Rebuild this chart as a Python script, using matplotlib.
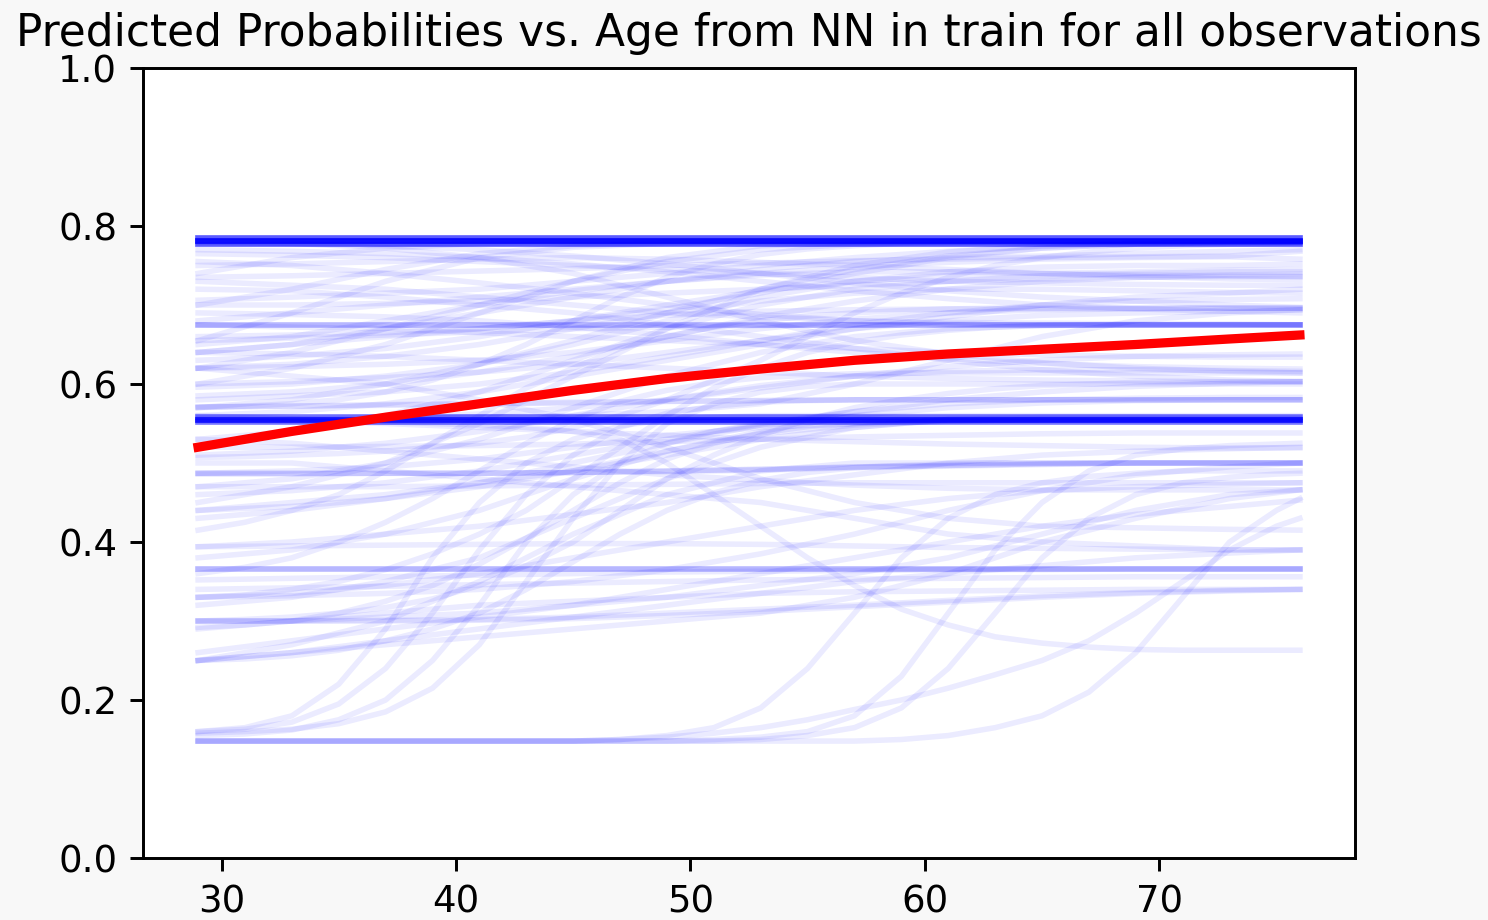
import numpy as np
import matplotlib
matplotlib.use('Agg')
from matplotlib import pyplot as plt

ages = [29, 33, 37, 41, 45, 49, 53, 57, 61, 65, 69, 73, 76]
# finer grid for the steep curves
ages_fine = [29, 31, 33, 35, 37, 39, 41, 43, 45, 47, 49, 51, 53, 55, 57, 59, 61, 63, 65, 67, 69, 71, 73, 75, 76]

# flat predictions that repeat for many observations
flat_levels = [0.7775, 0.781, 0.7845, 0.552, 0.555, 0.558, 0.675, 0.366]
flat_counts = [12, 22, 12, 9, 18, 9, 4, 4]

# slow curves in the upper part of the plot
upper_curves = [
    [0.70, 0.72, 0.745, 0.765, 0.775, 0.779, 0.78, 0.78, 0.78, 0.78, 0.78, 0.78, 0.78],
    [0.74, 0.76, 0.772, 0.778, 0.78, 0.78, 0.78, 0.78, 0.78, 0.78, 0.78, 0.78, 0.78],
    [0.62, 0.64, 0.67, 0.70, 0.73, 0.755, 0.77, 0.777, 0.78, 0.78, 0.78, 0.78, 0.78],
    [0.655, 0.69, 0.73, 0.76, 0.773, 0.778, 0.78, 0.78, 0.78, 0.78, 0.78, 0.78, 0.78],
    [0.57, 0.58, 0.60, 0.625, 0.655, 0.69, 0.72, 0.745, 0.762, 0.772, 0.777, 0.779, 0.78],
    [0.56, 0.565, 0.575, 0.59, 0.61, 0.63, 0.65, 0.67, 0.685, 0.70, 0.71, 0.715, 0.72],
    [0.78, 0.778, 0.775, 0.77, 0.762, 0.752, 0.74, 0.728, 0.718, 0.71, 0.705, 0.70, 0.697],
    [0.765, 0.763, 0.76, 0.755, 0.75, 0.745, 0.74, 0.735, 0.73, 0.728, 0.726, 0.725, 0.725],
    [0.735, 0.737, 0.74, 0.743, 0.746, 0.75, 0.753, 0.756, 0.758, 0.76, 0.761, 0.762, 0.768],
    [0.706, 0.71, 0.715, 0.72, 0.73, 0.74, 0.75, 0.76, 0.768, 0.774, 0.778, 0.78, 0.78],
    [0.64, 0.65, 0.66, 0.67, 0.68, 0.687, 0.692, 0.694, 0.695, 0.695, 0.696, 0.696, 0.696],
    [0.62, 0.622, 0.625, 0.63, 0.64, 0.655, 0.67, 0.682, 0.69, 0.694, 0.695, 0.696, 0.696],
    [0.655, 0.658, 0.662, 0.666, 0.67, 0.672, 0.674, 0.675, 0.675, 0.675, 0.675, 0.675, 0.675],
    [0.596, 0.60, 0.61, 0.625, 0.65, 0.68, 0.71, 0.73, 0.742, 0.748, 0.75, 0.75, 0.752],
    [0.571, 0.572, 0.574, 0.575, 0.577, 0.578, 0.579, 0.58, 0.58, 0.58, 0.58, 0.58, 0.58],
    [0.571, 0.572, 0.573, 0.575, 0.576, 0.578, 0.579, 0.58, 0.58, 0.58, 0.58, 0.58, 0.58],
    [0.555, 0.556, 0.558, 0.562, 0.57, 0.58, 0.595, 0.61, 0.622, 0.63, 0.635, 0.637, 0.638],
    [0.78, 0.778, 0.772, 0.76, 0.74, 0.71, 0.68, 0.655, 0.638, 0.627, 0.62, 0.616, 0.614],
    [0.72, 0.718, 0.71, 0.70, 0.69, 0.675, 0.66, 0.645, 0.63, 0.618, 0.61, 0.605, 0.603],
    [0.68, 0.69, 0.70, 0.71, 0.72, 0.73, 0.74, 0.748, 0.754, 0.758, 0.76, 0.761, 0.758],
    [0.66, 0.662, 0.665, 0.67, 0.68, 0.695, 0.715, 0.74, 0.76, 0.772, 0.777, 0.779, 0.78],
    [0.63, 0.635, 0.645, 0.66, 0.68, 0.70, 0.718, 0.73, 0.737, 0.74, 0.742, 0.744, 0.745],
    [0.60, 0.62, 0.65, 0.69, 0.73, 0.76, 0.775, 0.779, 0.78, 0.78, 0.78, 0.78, 0.78],
    [0.64, 0.65, 0.67, 0.69, 0.71, 0.73, 0.745, 0.755, 0.76, 0.762, 0.765, 0.768, 0.77],
    [0.75, 0.752, 0.755, 0.758, 0.76, 0.758, 0.754, 0.75, 0.745, 0.74, 0.736, 0.733, 0.732],
    [0.70, 0.70, 0.702, 0.705, 0.71, 0.715, 0.72, 0.725, 0.73, 0.733, 0.735, 0.736, 0.736],
    [0.675, 0.672, 0.67, 0.665, 0.66, 0.655, 0.65, 0.645, 0.64, 0.637, 0.635, 0.634, 0.634],
    [0.73, 0.725, 0.72, 0.71, 0.70, 0.69, 0.685, 0.68, 0.678, 0.677, 0.676, 0.676, 0.675],
    [0.58, 0.585, 0.59, 0.60, 0.615, 0.635, 0.655, 0.675, 0.69, 0.70, 0.705, 0.707, 0.708],
    [0.555, 0.555, 0.556, 0.558, 0.56, 0.565, 0.575, 0.60, 0.63, 0.66, 0.68, 0.69, 0.694],
    [0.77, 0.768, 0.765, 0.76, 0.752, 0.742, 0.73, 0.718, 0.708, 0.70, 0.695, 0.692, 0.69],
    [0.755, 0.75, 0.74, 0.728, 0.715, 0.70, 0.688, 0.68, 0.676, 0.675, 0.675, 0.675, 0.675],
    [0.62, 0.625, 0.635, 0.65, 0.67, 0.69, 0.705, 0.715, 0.72, 0.72, 0.718, 0.716, 0.715],
    [0.65, 0.66, 0.68, 0.70, 0.718, 0.73, 0.738, 0.742, 0.742, 0.74, 0.738, 0.737, 0.736],
    [0.60, 0.603, 0.608, 0.615, 0.625, 0.64, 0.655, 0.67, 0.68, 0.687, 0.69, 0.692, 0.694],
    [0.69, 0.688, 0.685, 0.68, 0.672, 0.662, 0.65, 0.64, 0.632, 0.626, 0.622, 0.62, 0.619],
    [0.585, 0.59, 0.60, 0.615, 0.635, 0.66, 0.685, 0.705, 0.72, 0.73, 0.735, 0.738, 0.739],
    [0.64, 0.638, 0.635, 0.63, 0.625, 0.62, 0.615, 0.61, 0.607, 0.605, 0.604, 0.603, 0.603],
]

# slow curves in the middle band
middle_curves = [
    [0.487, 0.49, 0.495, 0.505, 0.52, 0.535, 0.545, 0.55, 0.553, 0.555, 0.555, 0.555, 0.555],
    [0.487, 0.487, 0.487, 0.487, 0.488, 0.49, 0.492, 0.495, 0.497, 0.499, 0.50, 0.50, 0.50],
    [0.487, 0.487, 0.487, 0.487, 0.488, 0.49, 0.492, 0.495, 0.497, 0.499, 0.50, 0.50, 0.50],
    [0.486, 0.486, 0.487, 0.487, 0.488, 0.489, 0.491, 0.494, 0.496, 0.498, 0.50, 0.50, 0.50],
    [0.47, 0.48, 0.50, 0.53, 0.57, 0.61, 0.64, 0.66, 0.67, 0.674, 0.675, 0.675, 0.675],
    [0.45, 0.47, 0.50, 0.55, 0.61, 0.67, 0.72, 0.75, 0.767, 0.775, 0.778, 0.78, 0.78],
    [0.44, 0.445, 0.455, 0.47, 0.49, 0.515, 0.54, 0.56, 0.57, 0.576, 0.579, 0.58, 0.58],
    [0.394, 0.40, 0.41, 0.42, 0.435, 0.45, 0.47, 0.485, 0.50, 0.51, 0.515, 0.518, 0.52],
    [0.38, 0.39, 0.41, 0.44, 0.48, 0.515, 0.537, 0.548, 0.553, 0.555, 0.555, 0.555, 0.555],
    [0.352, 0.354, 0.356, 0.358, 0.36, 0.362, 0.363, 0.364, 0.365, 0.365, 0.366, 0.366, 0.366],
    [0.33, 0.332, 0.335, 0.34, 0.35, 0.365, 0.385, 0.41, 0.44, 0.465, 0.485, 0.495, 0.50],
    [0.33, 0.335, 0.345, 0.36, 0.38, 0.40, 0.42, 0.44, 0.455, 0.465, 0.47, 0.473, 0.475],
    [0.30, 0.30, 0.301, 0.302, 0.305, 0.31, 0.315, 0.32, 0.326, 0.332, 0.336, 0.339, 0.34],
    [0.30, 0.30, 0.30, 0.301, 0.303, 0.307, 0.312, 0.318, 0.324, 0.33, 0.335, 0.338, 0.34],
    [0.26, 0.275, 0.29, 0.305, 0.32, 0.34, 0.36, 0.38, 0.40, 0.42, 0.435, 0.445, 0.453],
    [0.25, 0.26, 0.275, 0.29, 0.305, 0.32, 0.335, 0.35, 0.36, 0.37, 0.38, 0.386, 0.39],
    [0.50, 0.50, 0.49, 0.48, 0.47, 0.46, 0.45, 0.43, 0.41, 0.40, 0.395, 0.39, 0.39],
    [0.62, 0.61, 0.60, 0.58, 0.555, 0.52, 0.48, 0.45, 0.43, 0.42, 0.418, 0.416, 0.415],
    [0.30, 0.30, 0.305, 0.31, 0.32, 0.33, 0.345, 0.36, 0.38, 0.41, 0.44, 0.46, 0.466],
    [0.25, 0.26, 0.27, 0.28, 0.29, 0.30, 0.31, 0.33, 0.36, 0.40, 0.43, 0.455, 0.466],
    [0.555, 0.553, 0.55, 0.545, 0.54, 0.535, 0.53, 0.527, 0.524, 0.522, 0.52, 0.519, 0.519],
    [0.52, 0.52, 0.521, 0.522, 0.524, 0.527, 0.53, 0.533, 0.535, 0.537, 0.538, 0.538, 0.538],
    [0.44, 0.45, 0.46, 0.475, 0.49, 0.51, 0.53, 0.545, 0.555, 0.558, 0.558, 0.557, 0.557],
    [0.47, 0.47, 0.47, 0.471, 0.472, 0.473, 0.474, 0.475, 0.475, 0.475, 0.475, 0.475, 0.475],
    [0.394, 0.395, 0.396, 0.397, 0.398, 0.398, 0.397, 0.395, 0.393, 0.392, 0.391, 0.39, 0.39],
    [0.34, 0.342, 0.344, 0.346, 0.348, 0.35, 0.352, 0.353, 0.354, 0.355, 0.356, 0.356, 0.356],
    [0.29, 0.30, 0.31, 0.32, 0.325, 0.33, 0.335, 0.337, 0.338, 0.339, 0.34, 0.34, 0.34],
    [0.53, 0.54, 0.56, 0.59, 0.63, 0.67, 0.70, 0.72, 0.73, 0.737, 0.74, 0.742, 0.742],
    [0.32, 0.33, 0.35, 0.38, 0.43, 0.48, 0.52, 0.545, 0.555, 0.555, 0.555, 0.555, 0.555],
    [0.25, 0.27, 0.30, 0.35, 0.41, 0.46, 0.49, 0.50, 0.50, 0.50, 0.50, 0.50, 0.50],
    [0.46, 0.465, 0.475, 0.49, 0.51, 0.53, 0.55, 0.565, 0.575, 0.58, 0.582, 0.583, 0.583],
    [0.51, 0.515, 0.525, 0.54, 0.56, 0.58, 0.598, 0.61, 0.616, 0.618, 0.618, 0.617, 0.616],
    [0.43, 0.44, 0.455, 0.475, 0.5, 0.525, 0.548, 0.565, 0.58, 0.59, 0.597, 0.601, 0.603],
    [0.53, 0.525, 0.515, 0.505, 0.495, 0.485, 0.478, 0.472, 0.468, 0.466, 0.466, 0.466, 0.466],
]

# steep curves, on the finer grid
steep_curves = [
    [0.16, 0.165, 0.18, 0.22, 0.29, 0.38, 0.45, 0.50, 0.53, 0.547, 0.555, 0.558, 0.56, 0.56, 0.56, 0.56, 0.56, 0.56, 0.56, 0.56, 0.56, 0.56, 0.56, 0.56, 0.56],
    [0.16, 0.163, 0.172, 0.195, 0.24, 0.31, 0.39, 0.46, 0.51, 0.545, 0.563, 0.572, 0.577, 0.579, 0.58, 0.58, 0.58, 0.58, 0.58, 0.58, 0.58, 0.58, 0.58, 0.58, 0.58],
    [0.155, 0.157, 0.162, 0.175, 0.20, 0.25, 0.32, 0.40, 0.46, 0.50, 0.525, 0.54, 0.548, 0.552, 0.554, 0.555, 0.555, 0.555, 0.555, 0.555, 0.555, 0.555, 0.555, 0.555, 0.555],
    [0.158, 0.16, 0.163, 0.17, 0.185, 0.215, 0.27, 0.35, 0.43, 0.50, 0.55, 0.575, 0.59, 0.597, 0.60, 0.60, 0.60, 0.60, 0.60, 0.60, 0.60, 0.60, 0.60, 0.60, 0.60],
    [0.148, 0.148, 0.148, 0.148, 0.148, 0.148, 0.148, 0.148, 0.148, 0.148, 0.148, 0.15, 0.153, 0.16, 0.18, 0.23, 0.31, 0.39, 0.45, 0.49, 0.51, 0.518, 0.522, 0.524, 0.525],
    [0.148, 0.148, 0.148, 0.148, 0.148, 0.148, 0.148, 0.148, 0.148, 0.148, 0.148, 0.148, 0.15, 0.155, 0.165, 0.19, 0.24, 0.31, 0.38, 0.43, 0.46, 0.475, 0.482, 0.486, 0.487],
    [0.148, 0.148, 0.148, 0.148, 0.148, 0.148, 0.148, 0.148, 0.148, 0.15, 0.155, 0.165, 0.19, 0.24, 0.31, 0.38, 0.43, 0.46, 0.475, 0.483, 0.487, 0.49, 0.49, 0.49, 0.49],
    [0.148, 0.148, 0.148, 0.148, 0.148, 0.148, 0.148, 0.148, 0.148, 0.148, 0.148, 0.148, 0.148, 0.148, 0.148, 0.15, 0.155, 0.165, 0.18, 0.21, 0.26, 0.33, 0.40, 0.44, 0.455],
    [0.148, 0.148, 0.148, 0.148, 0.148, 0.148, 0.148, 0.148, 0.148, 0.15, 0.153, 0.158, 0.165, 0.175, 0.188, 0.20, 0.215, 0.232, 0.25, 0.275, 0.31, 0.35, 0.39, 0.42, 0.43],
    [0.56, 0.558, 0.556, 0.554, 0.552, 0.55, 0.548, 0.545, 0.54, 0.53, 0.50, 0.46, 0.42, 0.38, 0.345, 0.315, 0.295, 0.28, 0.272, 0.267, 0.264, 0.263, 0.263, 0.263, 0.263],
    [0.415, 0.425, 0.44, 0.46, 0.49, 0.525, 0.56, 0.595, 0.62, 0.645, 0.66, 0.672, 0.68, 0.686, 0.69, 0.693, 0.695, 0.696, 0.696, 0.696, 0.696, 0.696, 0.696, 0.696, 0.696],
    [0.30, 0.302, 0.305, 0.31, 0.317, 0.328, 0.345, 0.37, 0.40, 0.44, 0.48, 0.51, 0.535, 0.555, 0.57, 0.58, 0.588, 0.594, 0.598, 0.60, 0.602, 0.602, 0.603, 0.603, 0.603],
    [0.507, 0.508, 0.51, 0.512, 0.515, 0.52, 0.525, 0.533, 0.545, 0.56, 0.58, 0.605, 0.63, 0.66, 0.69, 0.715, 0.735, 0.75, 0.76, 0.767, 0.772, 0.775, 0.777, 0.778, 0.779],
    [0.33, 0.333, 0.34, 0.35, 0.365, 0.385, 0.41, 0.44, 0.48, 0.52, 0.56, 0.595, 0.62, 0.64, 0.653, 0.662, 0.668, 0.672, 0.674, 0.675, 0.675, 0.675, 0.675, 0.675, 0.675],
    [0.36, 0.368, 0.38, 0.40, 0.425, 0.455, 0.49, 0.525, 0.555, 0.578, 0.592, 0.602, 0.608, 0.611, 0.613, 0.614, 0.614, 0.614, 0.614, 0.614, 0.614, 0.614, 0.614, 0.614, 0.614],
    [0.292, 0.295, 0.30, 0.31, 0.325, 0.345, 0.372, 0.405, 0.44, 0.475, 0.505, 0.525, 0.538, 0.546, 0.55, 0.553, 0.555, 0.555, 0.555, 0.555, 0.555, 0.555, 0.555, 0.555, 0.555],
    [0.25, 0.252, 0.256, 0.263, 0.275, 0.29, 0.31, 0.34, 0.375, 0.41, 0.44, 0.462, 0.478, 0.488, 0.494, 0.497, 0.499, 0.50, 0.50, 0.50, 0.50, 0.50, 0.50, 0.50, 0.50],
    [0.57, 0.572, 0.575, 0.58, 0.59, 0.605, 0.625, 0.65, 0.68, 0.71, 0.735, 0.752, 0.764, 0.771, 0.775, 0.778, 0.779, 0.78, 0.78, 0.78, 0.78, 0.78, 0.78, 0.78, 0.78],
]

# mean predicted probability
mean_prob = [0.52, 0.54, 0.558, 0.575, 0.592, 0.607, 0.619, 0.630, 0.638, 0.644, 0.650, 0.657, 0.662]

plt.rcParams['font.family'] = 'DejaVu Sans'

fig = plt.figure(figsize=(1488 / 266., 920 / 266.), dpi=266, facecolor='#f8f8f8')
ax = fig.add_axes([143 / 1488., 62 / 920., 1212 / 1488., 790 / 920.])

for level, n in zip(flat_levels, flat_counts):
    for k in range(n):
        ax.plot(ages, [level] * len(ages), color='b', alpha=0.08)

for curve in upper_curves + middle_curves:
    ax.plot(ages, curve, color='b', alpha=0.08)

for curve in steep_curves:
    ax.plot(ages_fine, curve, color='b', alpha=0.08)

ax.plot(ages, mean_prob, color='r', linewidth=2.5)

ax.set_ylim(0, 1.0)
ax.set_xticks([30, 40, 50, 60, 70])
ax.set_title('Predicted Probabilities vs. Age from NN in train for all observations', fontsize=11.88)

fig.savefig('out.png', dpi=266, facecolor=fig.get_facecolor())
